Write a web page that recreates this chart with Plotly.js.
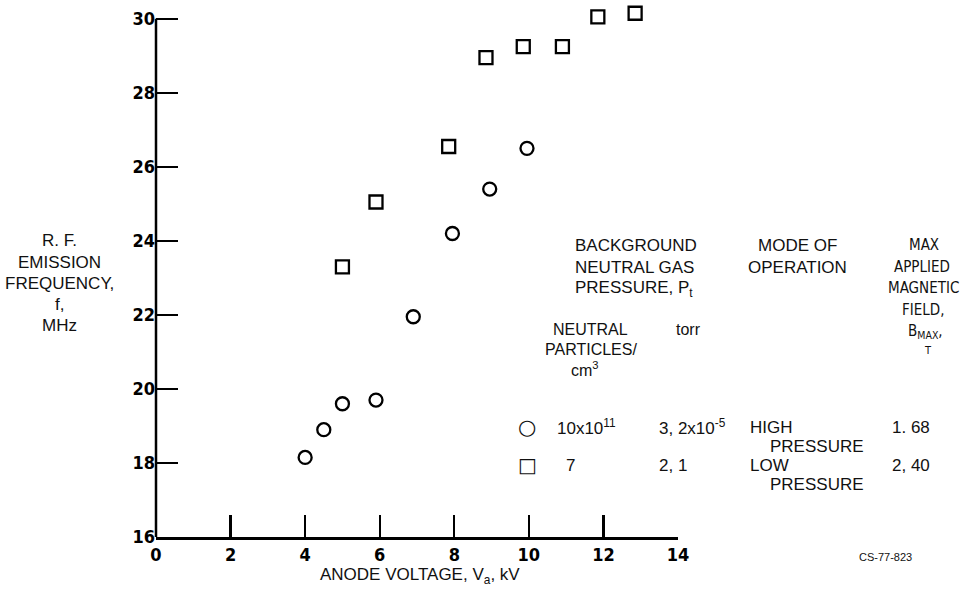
<!DOCTYPE html>
<html>
<head>
<meta charset="utf-8">
<script src="https://cdn.plot.ly/plotly-3.0.1.min.js"></script>
<style>html,body{margin:0;padding:0;background:#fff;}#chart{width:961px;height:594px;}</style>
</head>
<body>
<div id="chart"></div>
<script>
// Data
var highPressureVoltage = [4.0, 4.5, 5.0, 5.9, 6.9, 7.95, 8.95, 9.95];
var highPressureFreq    = [18.15, 18.9, 19.6, 19.7, 21.95, 24.2, 25.4, 26.5];
var lowPressureVoltage  = [5.0, 5.9, 7.85, 8.85, 9.85, 10.9, 11.85, 12.85];
var lowPressureFreq     = [23.3, 25.05, 26.55, 28.95, 29.25, 29.25, 30.05, 30.15];
var xTicks = [0, 2, 4, 6, 8, 10, 12, 14];
var yTicks = [16, 18, 20, 22, 24, 26, 28, 30];

var W = 961, H = 594;
var L = 156, R = 283, T = 4, B = 57;
var pw = W - L - R, ph = H - T - B;
function px(x){ return (x - L) / pw; }
function py(y){ return (H - B - y) / ph; }

var TXT = 'Liberation Sans, Arial, sans-serif';
var COND = 'DejaVu Sans Condensed, Liberation Sans Narrow, Arial Narrow, sans-serif';
var TICK = 'Liberation Sans Narrow, DejaVu Sans Condensed, Arial Narrow, sans-serif';

function ann(text, x, y, xanchor, size, fam, weight){
  return {text: text, xref: 'paper', yref: 'paper', x: px(x), y: py(y),
          xanchor: xanchor || 'left', yanchor: 'middle', showarrow: false,
          font: {family: fam || TXT, size: size || 17, color: '#111', weight: weight || 'normal'}};
}

var annotations = [
  // y-axis title
  ann('R. F.', 59, 240, 'center'),
  ann('EMISSION', 59, 262, 'center'),
  ann('FREQUENCY,', 59, 284, 'center'),
  ann('f,', 59, 305, 'center'),
  ann('MHz', 59, 326, 'center'),
  // x-axis title
  ann('ANODE VOLTAGE, V<sub>a</sub>, kV', 318, 576, 'left'),
  // legend table headings
  ann('BACKGROUND', 573, 245, 'left'),
  ann('NEUTRAL GAS', 573, 267, 'left'),
  ann('PRESSURE, P<sub>t</sub>', 573, 289, 'left'),
  ann('MODE OF', 797, 245, 'center'),
  ann('OPERATION', 797, 267, 'center'),
  ann('MAX', 924, 245, 'center', 15, COND),
  ann('APPLIED', 922, 267, 'center', 15, COND),
  ann('MAGNETIC', 923, 288, 'center', 15, COND),
  ann('FIELD,', 923, 310, 'center', 15, COND),
  ann('B<sub>MAX</sub>,', 925, 331, 'center', 15, COND),
  ann('T', 928, 351, 'center', 11, COND),
  ann('NEUTRAL', 590, 329, 'center', 16),
  ann('PARTICLES/', 591, 349, 'center', 16),
  ann('cm<sup>3</sup>', 585, 369, 'center', 16),
  ann('torr', 688, 330, 'center', 16),
  // rows
  ann('\u25CB', 527, 427, 'center', 21, 'DejaVu Sans', 'bold'),
  ann('10x10<sup>11</sup>', 555, 427, 'left'),
  ann('3, 2x10<sup>-5</sup>', 657, 427, 'left'),
  ann('HIGH', 748, 427, 'left'),
  ann('PRESSURE', 768, 446, 'left'),
  ann('1. 68', 890, 427, 'left'),
  ann('\u25A1', 527, 465, 'center', 20, 'DejaVu Sans', 'bold'),
  ann('7', 570, 465, 'center'),
  ann('2, 1', 657, 465, 'left'),
  ann('LOW', 748, 465, 'left'),
  ann('PRESSURE', 768, 484, 'left'),
  ann('2, 40', 890, 465, 'left'),
  ann('CS-77-823', 885, 557, 'center', 11)
];

var traces = [
  {x: highPressureVoltage, y: highPressureFreq, type: 'scatter', mode: 'markers',
   name: 'High pressure', cliponaxis: false,
   marker: {symbol: 'circle-open', size: 13, color: '#000', line: {width: 2.3, color: '#000'}}},
  {x: lowPressureVoltage, y: lowPressureFreq, type: 'scatter', mode: 'markers',
   name: 'Low pressure', cliponaxis: false,
   marker: {symbol: 'square-open', size: 13, color: '#000', line: {width: 2.3, color: '#000'}}}
];

var layout = {
  width: W, height: H,
  margin: {l: L, r: R, t: T, b: B, pad: 0},
  paper_bgcolor: '#fff', plot_bgcolor: '#fff',
  showlegend: false,
  xaxis: {range: [0, 14], tickvals: xTicks, ticktext: xTicks.map(String),
          ticks: 'inside', ticklen: 22, tickwidth: 2.2, tickcolor: '#000',
          showline: true, linewidth: 2.5, linecolor: '#000', showgrid: false, zeroline: false,
          tickfont: {family: TICK, size: 18, color: '#000', weight: 'bold'}, fixedrange: true},
  yaxis: {range: [16, 30.4], tickvals: yTicks, ticktext: yTicks.map(String),
          ticks: 'inside', ticklen: 22, tickwidth: 2.2, tickcolor: '#000',
          showline: false, showgrid: false, zeroline: false,
          tickfont: {family: TICK, size: 18, color: '#000', weight: 'bold'}, fixedrange: true},
  shapes: [
    {type: 'line', xref: 'paper', yref: 'y', x0: 0, x1: 0, y0: yTicks[0], y1: yTicks[yTicks.length - 1],
     line: {color: '#000', width: 2.5}}
  ],
  annotations: annotations
};

Plotly.newPlot('chart', traces, layout, {displayModeBar: false, staticPlot: true});
</script>
</body>
</html>
